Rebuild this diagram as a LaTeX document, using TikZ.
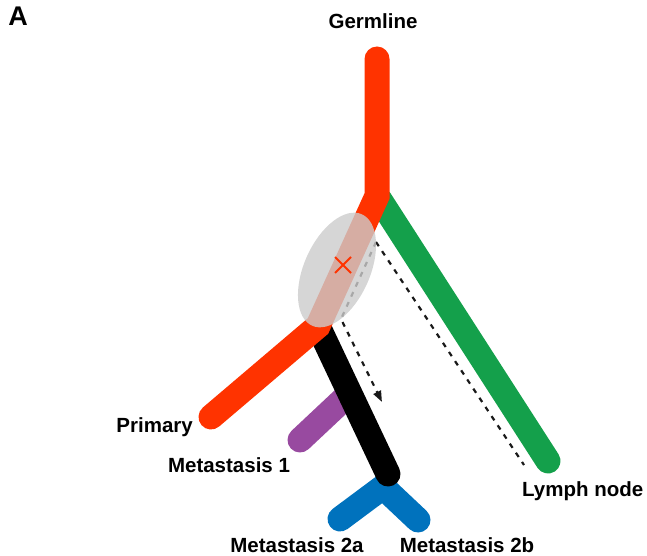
\documentclass[tikz,border=0pt]{standalone}
\usepackage{fontspec}
\setmainfont{Liberation Sans}
\usetikzlibrary{arrows.meta}
\definecolor{germred}{RGB}{255,51,0}
\definecolor{lymphgreen}{RGB}{20,160,75}
\definecolor{metpurple}{RGB}{152,74,160}
\definecolor{metblue}{RGB}{0,114,189}
\begin{document}
\begin{tikzpicture}[
    x=1pt, y=-1pt,
    >={Triangle[length=11pt,width=8pt]},
    branch/.style={line width=25pt, line cap=round, line join=miter},
    migr/.style={line width=2.2pt, dash pattern=on 5pt off 6pt, black!90},
    lbl/.style={font=\fontsize{20.5}{23}\selectfont\bfseries, inner sep=0pt}
]
  \useasboundingbox (0,0) rectangle (647,556);

  % tree points
  \coordinate (G)   at (377,59);
  \coordinate (R)   at (377,196);
  \coordinate (Ps)  at (318,326);
  \coordinate (P)   at (211,417);
  \coordinate (L0)  at (380,200);
  \coordinate (L)   at (548,461);
  \coordinate (B)   at (388,474);
  \coordinate (M1s) at (349,394);
  \coordinate (M1)  at (300,440);
  \coordinate (Bs)  at (383,487);
  \coordinate (M2a) at (340,519);
  \coordinate (M2b) at (418,520);
  \coordinate (S)   at (376,242);
  \coordinate (K)   at (341,319);
  \coordinate (T)   at (382,402);
  \coordinate (Le)  at (524,465);

  % migration paths
  \draw[migr] (S) -- (Le);
  \draw[migr, ->] (S) -- (K) -- (T);

  % branches
  \draw[branch, lymphgreen] (L0) -- (L);
  \draw[branch, metblue] (M2a) -- (Bs) -- (M2b);
  \draw[branch, metpurple] (M1) -- (M1s);
  \draw[branch, black] (Ps) -- (B);
  \draw[branch, germred] (G) -- (R) -- (Ps) -- (P);

  % seeding clone
  \fill[gray!40, opacity=0.8, rotate around={-24:(337,270)}]
    (337,270) ellipse [x radius=33, y radius=61];
  \node[inner sep=0pt] (X) at (343,265) {};
  \draw[germred, line width=2pt] ([shift={(-8,-8)}]X.center) -- ([shift={(8,8)}]X.center)
                                 ([shift={(-8,8)}]X.center) -- ([shift={(8,-8)}]X.center);

  % labels
  \node[lbl, font=\fontsize{27}{30}\selectfont\bfseries, anchor=base] (title) at (18,26) {A};
  \node[lbl, anchor=base] (germ) at (373,29) {Germline};
  \node[lbl, anchor=base east] (prim) at (193,432) {Primary};
  \node[lbl, anchor=base] (met1) at (229,472) {Metastasis 1};
  \node[lbl, anchor=base] (met2a) at (297,552) {Metastasis 2a};
  \node[lbl, anchor=base] (met2b) at (467,552) {Metastasis 2b};
  \node[lbl, anchor=base west] (lymph) at (522,496) {Lymph node};
\end{tikzpicture}
\end{document}
